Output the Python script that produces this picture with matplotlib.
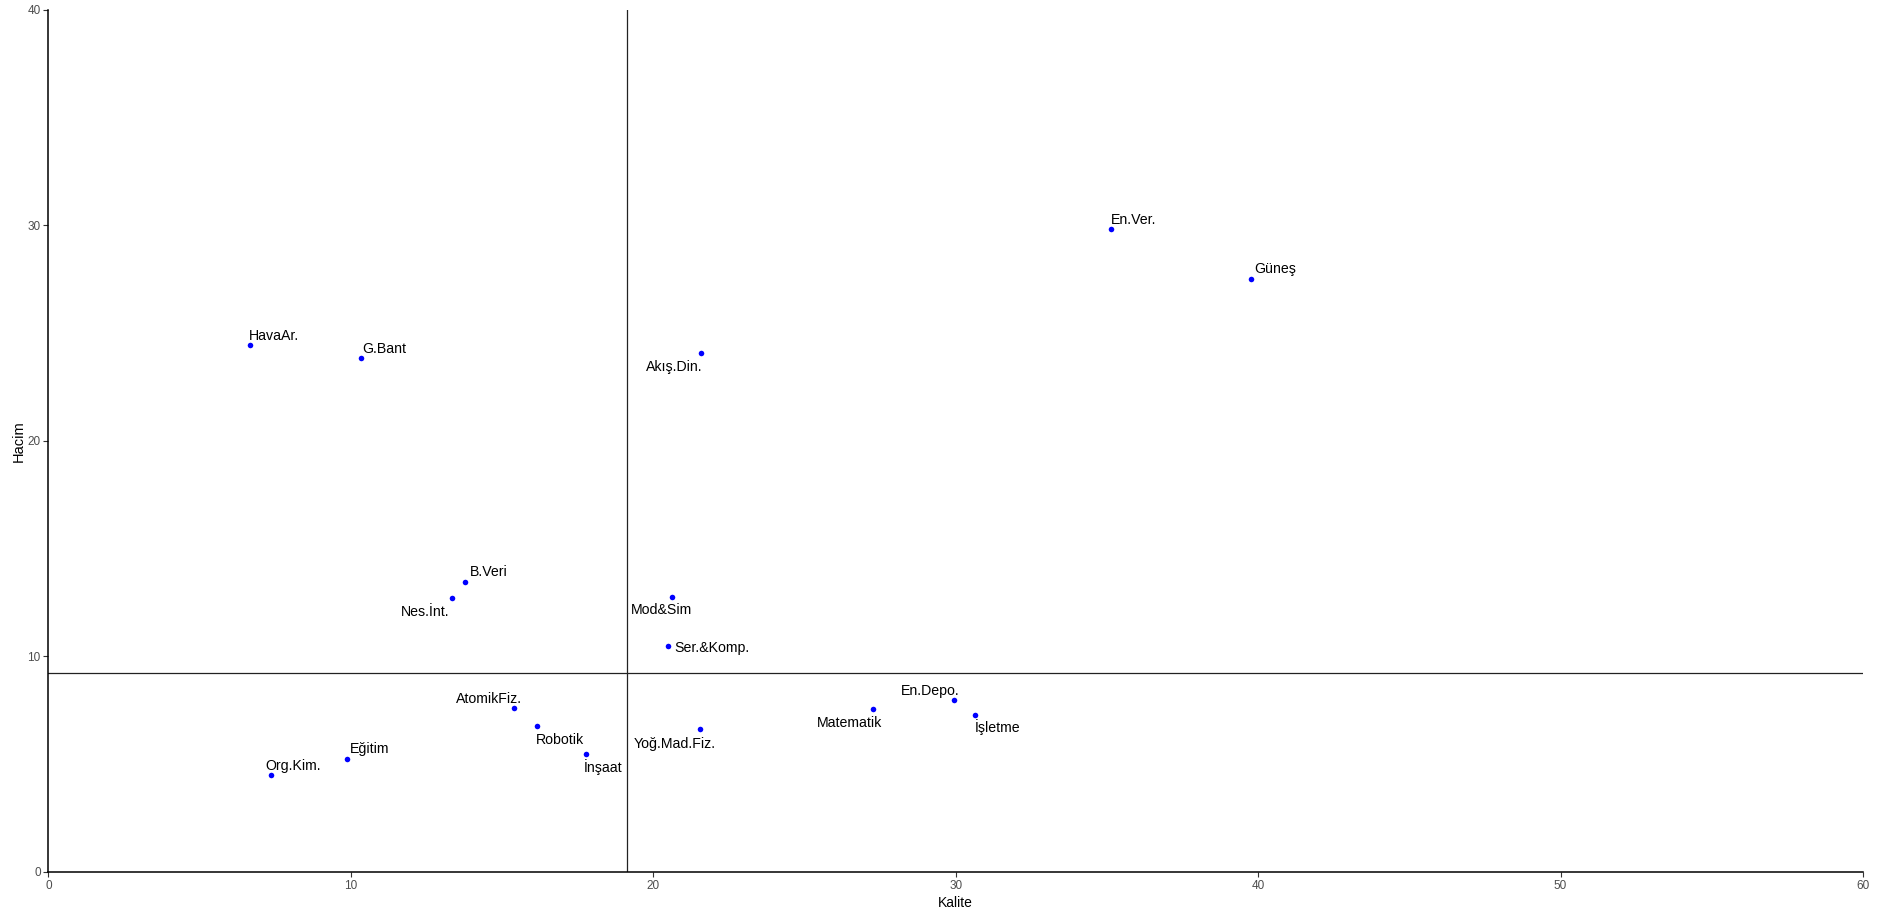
import numpy as np
import matplotlib
matplotlib.use("Agg")
import matplotlib.pyplot as plt

plt.rcParams['font.family'] = ['Liberation Sans', 'DejaVu Sans']

labels = ["HavaAr.", "G.Bant", "Akış.Din.", "En.Ver.", "Güneş", "B.Veri", "Nes.İnt.",
          "Mod&Sim", "Ser.&Komp.", "AtomikFiz.", "Robotik", "İnşaat", "Yoğ.Mad.Fiz.",
          "Matematik", "En.Depo.", "İşletme", "Eğitim", "Org.Kim."]
kalite = [6.68, 10.32, 21.57, 35.14, 39.77, 13.78, 13.33,
          20.61, 20.50, 15.40, 16.15, 17.77, 21.53,
          27.28, 29.95, 30.64, 9.86, 7.35]
hacim = [24.44, 23.85, 24.09, 29.81, 27.52, 13.47, 12.71,
         12.74, 10.48, 7.61, 6.76, 5.49, 6.62,
         7.56, 7.98, 7.30, 5.26, 4.49]

# label placement (pixel offsets, horizontal alignment)
label_pos = {
    "HavaAr.": (-2, 5, 'left'),
    "G.Bant": (2, 5, 'left'),
    "Akış.Din.": (2, -18, 'right'),
    "En.Ver.": (0, 5.5, 'left'),
    "Güneş": (3, 5.5, 'left'),
    "B.Veri": (5, 5.5, 'left'),
    "Nes.İnt.": (-2, -18, 'right'),
    "Mod&Sim": (-10, -17, 'center'),
    "Ser.&Komp.": (6, -5.5, 'left'),
    "AtomikFiz.": (8, 5.3, 'right'),
    "Robotik": (-0.5, -18, 'left'),
    "İnşaat": (-2.5, -18, 'left'),
    "Yoğ.Mad.Fiz.": (16, -18.4, 'right'),
    "Matematik": (9, -17.7, 'right'),
    "En.Depo.": (5, 5, 'right'),
    "İşletme": (0, -17.7, 'left'),
    "Eğitim": (3, 5.4, 'left'),
    "Org.Kim.": (-5, 5.3, 'left'),
}

fig = plt.figure(figsize=(18.97, 9.17), dpi=100)
ax = fig.add_axes([48.4/1897, 1-872/917, (1863-48.4)/1897, (872-9.7)/917])

ax.scatter(kalite, hacim, s=16, color='blue', zorder=3, linewidths=0)
ax.axvline(np.median(kalite), color='#222222', lw=0.9, zorder=1)
ax.axhline(np.median(hacim), color='#222222', lw=0.9, zorder=1)

for lab, x, y in zip(labels, kalite, hacim):
    dx, dy, ha = label_pos[lab]
    ax.annotate(lab, (x, y), xytext=(dx, dy), textcoords='offset pixels',
                ha=ha, va='baseline', fontsize=10.2, color='black')

ax.set_xlim(0, 60)
ax.set_ylim(0, 40)
ax.set_xticks([0, 10, 20, 30, 40, 50, 60])
ax.set_yticks([0, 10, 20, 30, 40])
for s in ['top', 'right']:
    ax.spines[s].set_visible(False)
for s in ['left', 'bottom']:
    ax.spines[s].set_linewidth(1.1)
    ax.spines[s].set_color('black')
ax.tick_params(axis='both', length=3.5, width=0.8, color='#333333',
               labelcolor='#4D4D4D', labelsize=8.5, pad=2)
ax.set_xlabel("Kalite", fontsize=10, color='black', labelpad=3)
ax.set_ylabel("Hacim", fontsize=10.5, color='black', labelpad=1)

fig.savefig("out.png", dpi=100)
